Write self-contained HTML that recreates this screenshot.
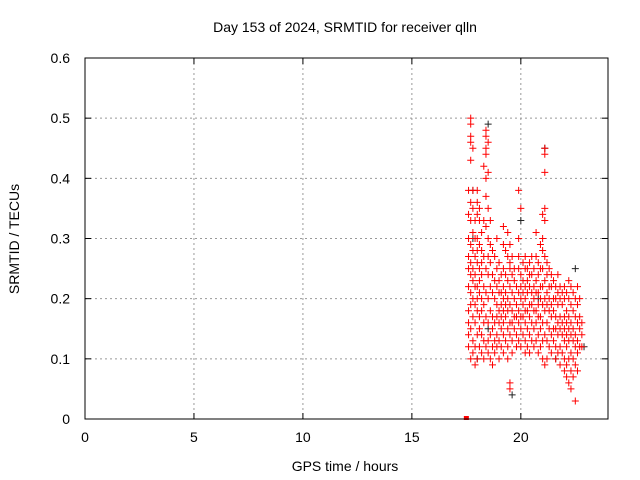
<!DOCTYPE html>
<html><head><meta charset="utf-8"><style>
body{margin:0;background:#fff}
svg{display:block;font-family:"Liberation Sans",sans-serif;font-size:14px}
</style></head><body>
<svg id="chart" width="640" height="480">
<rect width="640" height="480" fill="#fff"/>
<text x="345" y="32" text-anchor="middle">Day 153 of 2024, SRMTID for receiver qlln</text>
<text x="345" y="471" text-anchor="middle">GPS time / hours</text>
<text transform="translate(19,239) rotate(-90)" text-anchor="middle">SRMTID / TECUs</text>
<g id="grid"></g>
<g id="ticks"></g>
<g id="marks"></g>
<rect x="85" y="58" width="523" height="361" fill="none" stroke="#000" stroke-width="1"/>
</svg>
<script>
const xTicks=[0,5,10,15,20];
const yTicks=[0,0.1,0.2,0.3,0.4,0.5,0.6];
const yTickLabels=["0","0.1","0.2","0.3","0.4","0.5","0.6"];
const redTimes=[17.5,17.6,17.7,17.8,17.9,18.0,18.1,18.2,18.3,18.4,18.5,18.6,18.7,18.8,18.9,19.0,19.1,19.2,19.3,19.4,19.5,19.6,19.7,19.8,19.9,20.0,20.1,20.2,20.3,20.4,20.5,20.6,20.7,20.8,20.9,21.0,21.1,21.2,21.3,21.4,21.5,21.6,21.7,21.8,21.9,22.0,22.1,22.2,22.3,22.4,22.5,22.6,22.7,22.8];
const redValues=[
[0.0],
[0.38,0.34,0.30,0.25,0.22,0.18,0.16,0.12,0.14,0.27],
[0.50,0.49,0.47,0.46,0.43,0.36,0.33,0.29,0.26,0.24,0.21,0.19,0.15,0.10],
[0.45,0.38,0.35,0.31,0.28,0.25,0.23,0.20,0.17,0.13,0.11],
[0.33,0.30,0.27,0.24,0.22,0.19,0.16,0.12,0.09],
[0.38,0.36,0.34,0.30,0.28,0.26,0.22,0.20,0.18,0.14,0.10],
[0.35,0.33,0.29,0.25,0.23,0.21,0.17,0.15,0.12],
[0.31,0.28,0.26,0.24,0.20,0.18,0.14,0.11],
[0.42,0.33,0.27,0.22,0.19,0.16,0.13,0.10],
[0.48,0.47,0.45,0.44,0.40,0.37,0.32,0.25,0.21,0.17,0.12],
[0.46,0.41,0.35,0.30,0.27,0.24,0.20,0.16,0.13,0.11],
[0.33,0.29,0.26,0.22,0.18,0.14,0.10],
[0.28,0.24,0.21,0.17,0.15,0.12,0.09],
[0.27,0.23,0.20,0.16,0.13,0.11],
[0.30,0.25,0.22,0.19,0.17,0.14,0.12],
[0.26,0.23,0.21,0.18,0.16,0.13,0.10],
[0.24,0.21,0.19,0.17,0.15,0.12],
[0.32,0.29,0.25,0.22,0.20,0.18,0.16,0.14,0.11],
[0.28,0.24,0.21,0.19,0.17,0.13],
[0.31,0.27,0.23,0.20,0.18,0.15,0.12,0.10],
[0.29,0.26,0.25,0.22,0.19,0.16,0.14,0.06,0.05],
[0.27,0.24,0.21,0.18,0.16,0.13,0.11],
[0.25,0.23,0.20,0.17,0.15],
[0.22,0.19,0.17,0.14,0.12],
[0.38,0.30,0.27,0.25,0.21,0.18,0.16,0.13],
[0.35,0.24,0.22,0.20,0.17,0.15,0.12],
[0.26,0.23,0.21,0.19,0.17,0.14],
[0.27,0.25,0.22,0.20,0.18,0.16,0.13,0.11],
[0.25,0.23,0.21,0.18,0.15,0.12],
[0.26,0.24,0.22,0.19,0.17,0.14,0.11],
[0.27,0.24,0.21,0.19,0.16,0.13],
[0.25,0.22,0.20,0.18,0.15,0.12],
[0.31,0.27,0.23,0.21,0.18,0.16,0.13],
[0.26,0.24,0.21,0.19,0.17,0.14,0.11],
[0.29,0.25,0.22,0.20,0.17,0.15,0.12],
[0.34,0.30,0.28,0.25,0.22,0.19,0.16,0.13,0.10],
[0.45,0.44,0.41,0.35,0.33,0.27,0.23,0.20,0.18,0.14,0.09],
[0.26,0.24,0.21,0.19,0.16,0.13,0.10],
[0.25,0.22,0.20,0.18,0.15,0.12],
[0.24,0.22,0.19,0.17,0.14,0.11],
[0.23,0.20,0.18,0.15,0.13],
[0.22,0.20,0.17,0.15,0.12,0.10],
[0.24,0.21,0.19,0.16,0.14,0.11],
[0.22,0.20,0.17,0.15,0.12,0.09],
[0.21,0.19,0.16,0.14,0.11],
[0.22,0.20,0.17,0.15,0.13,0.10,0.08],
[0.21,0.18,0.16,0.14,0.12,0.09,0.07],
[0.23,0.20,0.17,0.15,0.13,0.10,0.06],
[0.22,0.19,0.16,0.14,0.11,0.08,0.05],
[0.21,0.18,0.15,0.13,0.10,0.07],
[0.20,0.17,0.14,0.12,0.09,0.03],
[0.22,0.19,0.16,0.13,0.11,0.08],
[0.20,0.17,0.15,0.12],
[0.16,0.14,0.12]
];
const blackTimes=[18.5,21.1,17.8,19.6,22.9,22.5,20.0,18.0,17.8,18.5,21.6,20.8];
const blackValues=[0.49,0.45,0.30,0.04,0.12,0.25,0.33,0.10,0.38,0.15,0.10,0.20];

const X0=85,X1=608,Y0=419,Y1=58;
const xScale=v=>X0+v/24*(X1-X0);
const yScale=v=>Y0-v/0.6*(Y0-Y1);
const NS="http://www.w3.org/2000/svg";
const grid=document.getElementById('grid'),ticks=document.getElementById('ticks'),marks=document.getElementById('marks');
function mk(tag,attrs,parent){const e=document.createElementNS(NS,tag);for(const k in attrs)e.setAttribute(k,attrs[k]);parent.appendChild(e);return e;}
xTicks.forEach(t=>{
  const x=xScale(t);
  if(t>0){const g=mk('line',{x1:x,x2:x,y1:Y1,y2:Y0,stroke:'#999','stroke-dasharray':'2,3'},grid);
  
  }
  mk('line',{x1:x,x2:x,y1:Y0,y2:Y0-6,stroke:'#000'},ticks);
  mk('line',{x1:x,x2:x,y1:Y1,y2:Y1+6,stroke:'#000'},ticks);
  const l=mk('text',{x:x,y:Y0+23,'text-anchor':'middle'},ticks);l.textContent=t;
  
  
});
yTicks.forEach((t,i)=>{
  const y=yScale(t);
  if(t>0&&t<0.6){const g=mk('line',{x1:X0,x2:X1,y1:y,y2:y,stroke:'#999','stroke-dasharray':'2,3'},grid);
  
  }
  mk('line',{x1:X0,x2:X0+6,y1:y,y2:y,stroke:'#000'},ticks);
  mk('line',{x1:X1,x2:X1-6,y1:y,y2:y,stroke:'#000'},ticks);
  const l=mk('text',{x:70,y:y+5,'text-anchor':'end'},ticks);l.textContent=yTickLabels[i];
  
  
});
function cross(x,y,c){
  const p=mk('path',{d:`M${x-3.5},${y}h7M${x},${y-3.5}v7`,stroke:c,'stroke-width':1},marks);
  
  
}
blackTimes.forEach((t,i)=>cross(xScale(t),yScale(blackValues[i]),'#222'));
redTimes.forEach((t,i)=>redValues[i].forEach(v=>{
  if(v===0){const r=mk('rect',{x:xScale(t)-2.5,y:yScale(v)-3,width:5,height:4,fill:'#f00'},marks);
    
    }
  else cross(xScale(t),yScale(v),'#f00');
}));
</script>
</body></html>
